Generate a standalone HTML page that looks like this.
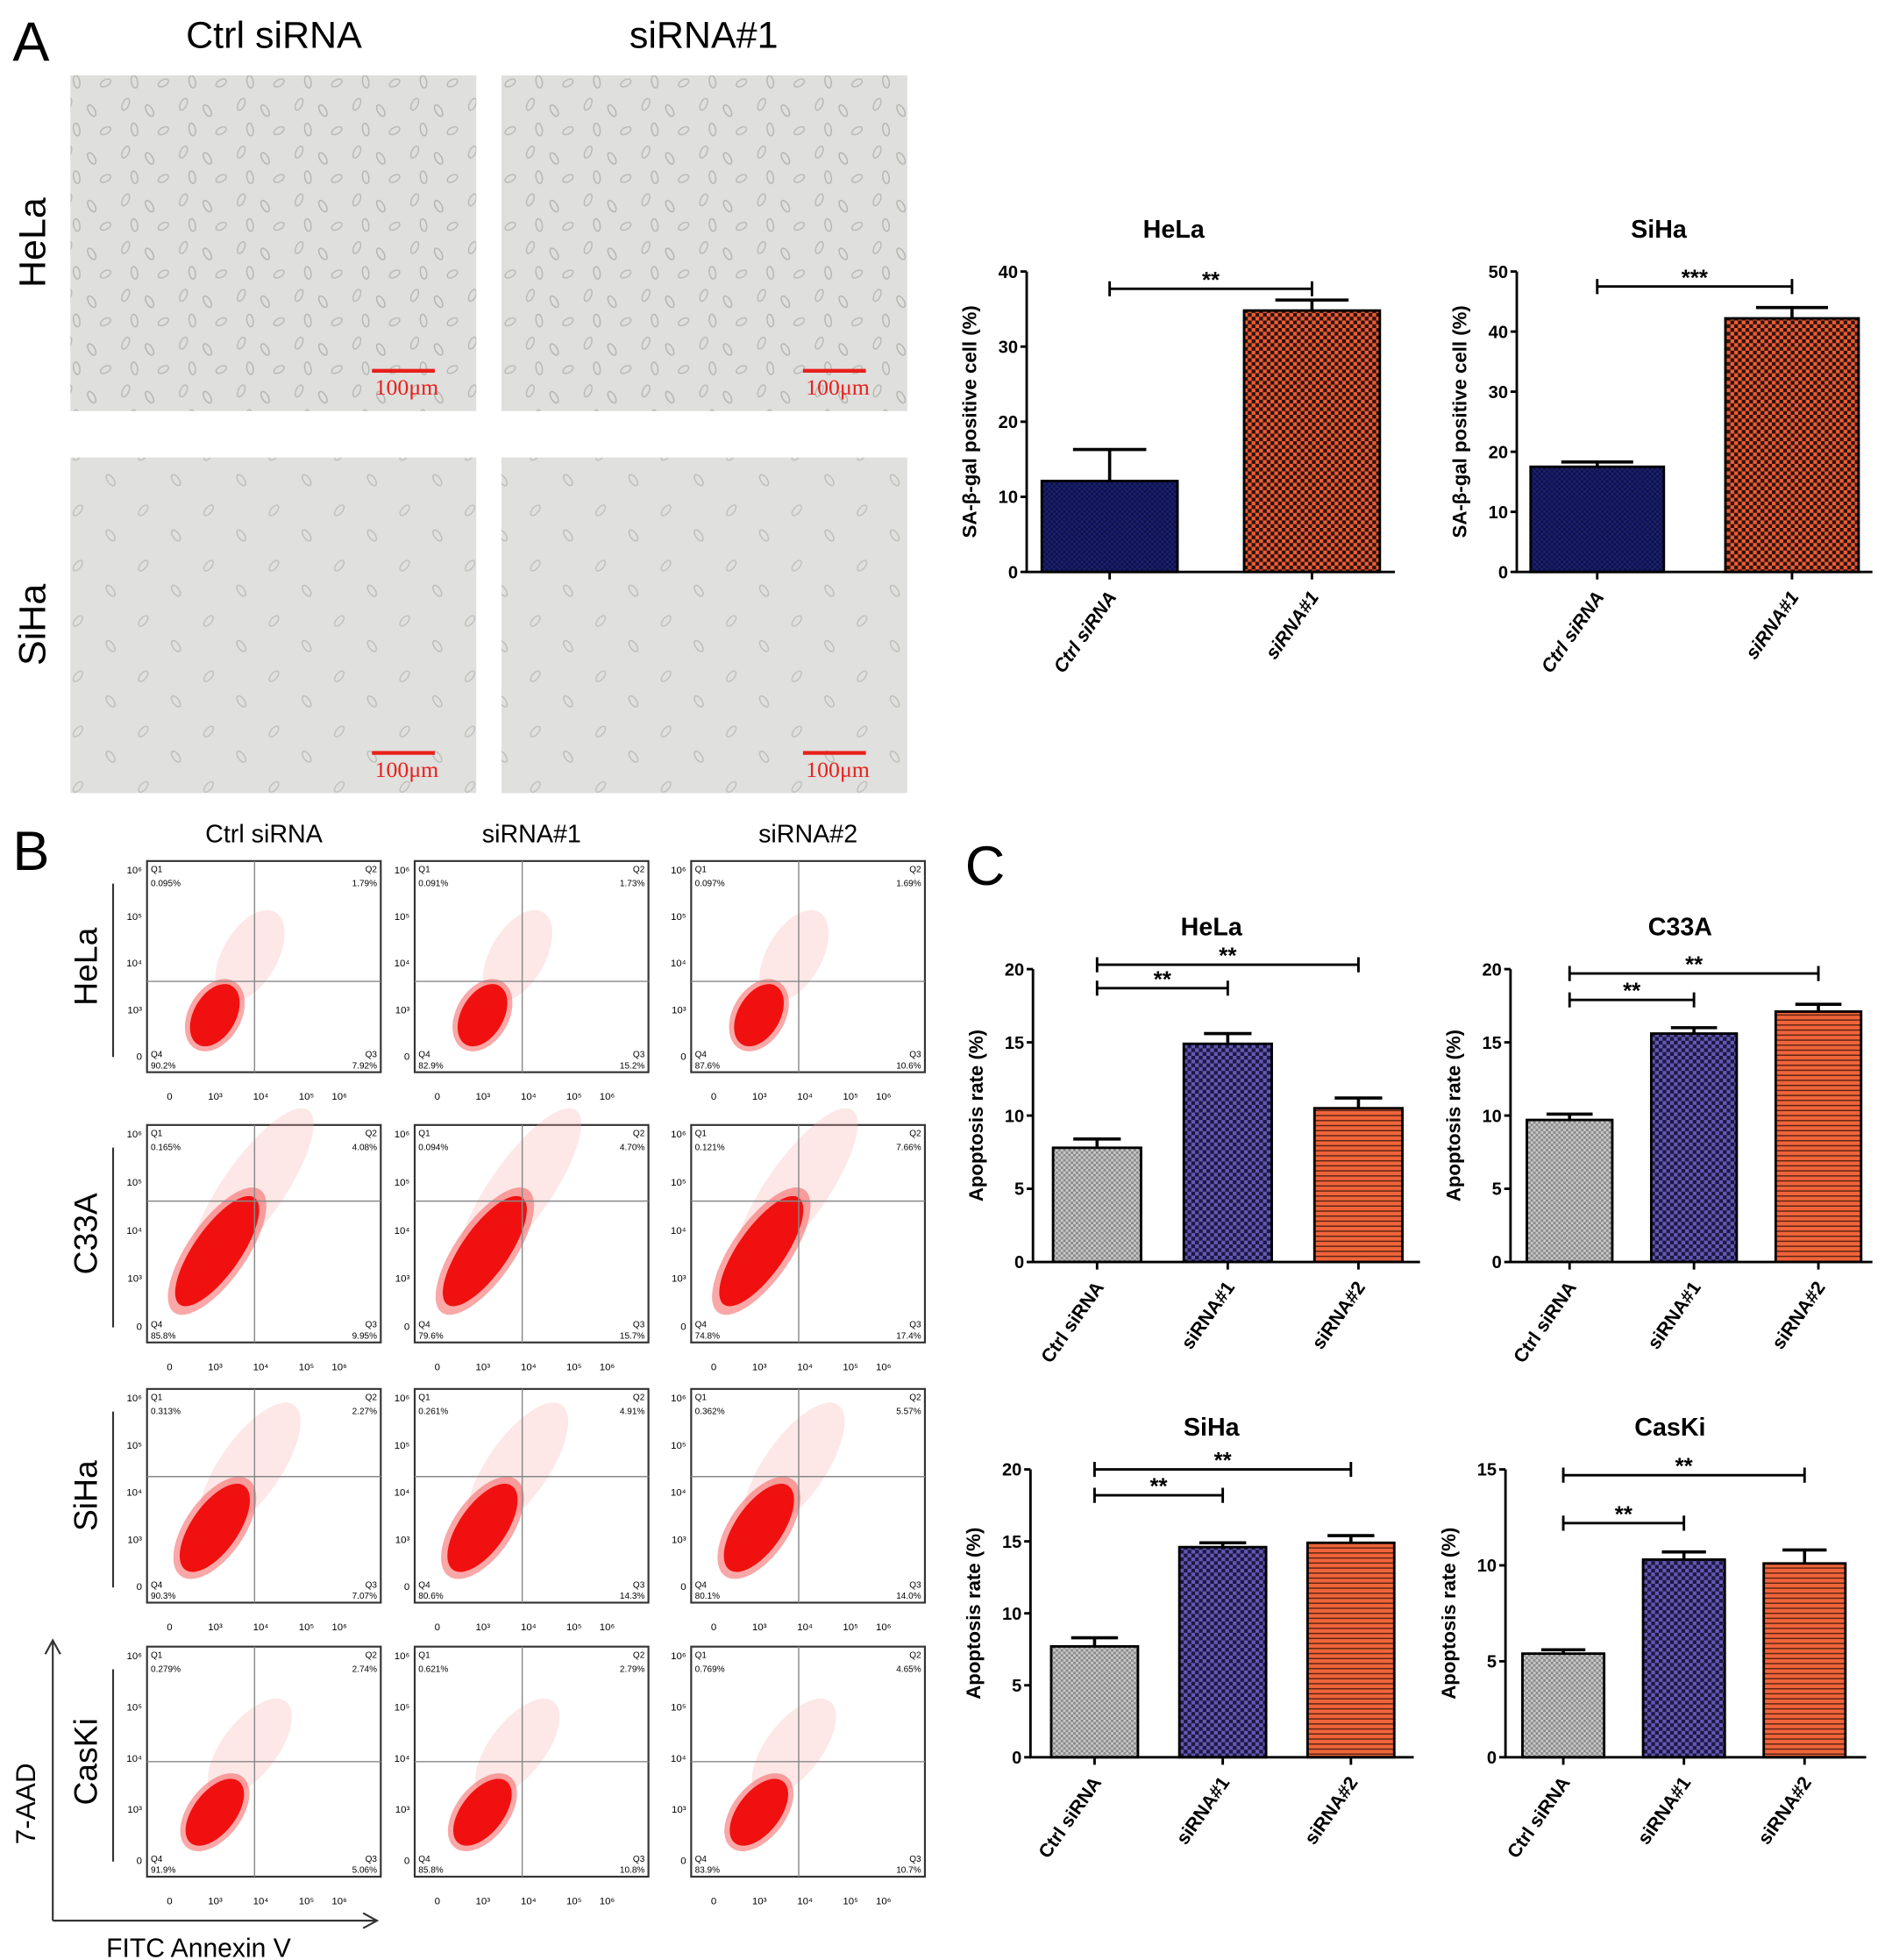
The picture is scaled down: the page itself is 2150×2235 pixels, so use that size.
<!DOCTYPE html>
<html><head><meta charset="utf-8">
<style>
html,body{margin:0;padding:0;background:#fff;}
svg{display:block;font-family:"Liberation Sans",Arial,sans-serif;}
</style></head>
<body>
<svg id="fig" width="2150" height="2235" viewBox="0 0 1500 1559.3" preserveAspectRatio="none" xmlns="http://www.w3.org/2000/svg">
<defs>
<pattern id="pBlue" width="4" height="4" patternUnits="userSpaceOnUse"><rect width="4" height="4" fill="#1b2070"/><rect width="2" height="2" fill="#0e1248"/><rect x="2" y="2" width="2" height="2" fill="#0e1248"/></pattern>
<pattern id="pOrange" width="6" height="6" patternUnits="userSpaceOnUse"><rect width="6" height="6" fill="#ef5a32"/><rect width="3" height="3" fill="#2a1410"/><rect x="3" y="3" width="3" height="3" fill="#2a1410"/></pattern>
<pattern id="pGray" width="4" height="4" patternUnits="userSpaceOnUse"><rect width="4" height="4" fill="#c8c8c8"/><rect width="2" height="2" fill="#8a8a8a"/><rect x="2" y="2" width="2" height="2" fill="#8a8a8a"/></pattern>
<pattern id="pPurple" width="6" height="6" patternUnits="userSpaceOnUse"><rect width="6" height="6" fill="#6358b0"/><rect width="3" height="3" fill="#1d1845"/><rect x="3" y="3" width="3" height="3" fill="#1d1845"/></pattern>
<pattern id="pStripe" width="4" height="4" patternUnits="userSpaceOnUse"><rect width="4" height="4" fill="#f0643a"/><rect y="3" width="4" height="1" fill="#5a2414"/></pattern>
<pattern id="pCells" width="46" height="38" patternUnits="userSpaceOnUse">
<rect width="46" height="38" fill="#dfdfdd"/>
<ellipse cx="8" cy="7" rx="2.5" ry="5" fill="none" stroke="#b8bab5" stroke-width="1" transform="rotate(25 8 7)"/>
<ellipse cx="27" cy="12" rx="2.5" ry="5" fill="none" stroke="#b2b4af" stroke-width="1" transform="rotate(-30 27 12)"/>
<ellipse cx="38" cy="28" rx="2.5" ry="4.5" fill="none" stroke="#b8bab5" stroke-width="1" transform="rotate(60 38 28)"/>
<ellipse cx="15" cy="27" rx="2.5" ry="5" fill="none" stroke="#b4b6b1" stroke-width="1" transform="rotate(-10 15 27)"/>
</pattern>
<pattern id="pCells2" width="52" height="44" patternUnits="userSpaceOnUse">
<rect width="52" height="44" fill="#e0e0de"/>
<ellipse cx="10" cy="10" rx="2.5" ry="5" fill="none" stroke="#bfc1bc" stroke-width="1" transform="rotate(40 10 10)"/>
<ellipse cx="36" cy="30" rx="2.5" ry="5" fill="none" stroke="#bcbeb9" stroke-width="1" transform="rotate(-35 36 30)"/>
</pattern>
</defs>
<g id="root"></g>
</svg>
<script>
// ---------- DATA ----------
const aCats = ['Ctrl siRNA', 'siRNA#1'];
const aHelaVals = [12.1, 34.8];
const aHelaErr = [4.2, 1.4];
const aSihaVals = [17.5, 42.2];
const aSihaErr = [0.8, 1.8];
const aHelaTicks = [0, 10, 20, 30, 40];
const aSihaTicks = [0, 10, 20, 30, 40, 50];
const aHelaSig = [[0, 1, 37.7, '**']];
const aSihaSig = [[0, 1, 47.5, '***']];

const cCats = ['Ctrl siRNA', 'siRNA#1', 'siRNA#2'];
const cHelaVals = [7.8, 14.9, 10.5];
const cHelaErr = [0.6, 0.7, 0.7];
const cC33aVals = [9.7, 15.6, 17.1];
const cC33aErr = [0.4, 0.4, 0.5];
const cSihaVals = [7.7, 14.6, 14.9];
const cSihaErr = [0.6, 0.3, 0.5];
const cCaskiVals = [5.4, 10.3, 10.1];
const cCaskiErr = [0.2, 0.4, 0.7];
const cTicks20 = [0, 5, 10, 15, 20];
const cTicks15 = [0, 5, 10, 15];
const cHelaSig = [[0, 1, 18.7, '**'], [0, 2, 20.3, '**']];
const cC33aSig = [[0, 1, 17.9, '**'], [0, 2, 19.7, '**']];
const cSihaSig = [[0, 1, 18.2, '**'], [0, 2, 20.0, '**']];
const cCaskiSig = [[0, 1, 12.2, '**'], [0, 2, 14.7, '**']];

const flowCols = ['Ctrl siRNA', 'siRNA#1', 'siRNA#2'];
const flowRows = ['HeLa', 'C33A', 'SiHa', 'CasKi'];
const flowQ1 = [['0.095%','0.091%','0.097%'],['0.165%','0.094%','0.121%'],['0.313%','0.261%','0.362%'],['0.279%','0.621%','0.769%']];
const flowQ2 = [['1.79%','1.73%','1.69%'],['4.08%','4.70%','7.66%'],['2.27%','4.91%','5.57%'],['2.74%','2.79%','4.65%']];
const flowQ3 = [['7.92%','15.2%','10.6%'],['9.95%','15.7%','17.4%'],['7.07%','14.3%','14.0%'],['5.06%','10.8%','10.7%']];
const flowQ4 = [['90.2%','82.9%','87.6%'],['85.8%','79.6%','74.8%'],['90.3%','80.6%','80.1%'],['91.9%','85.8%','83.9%']];

// ---------- HELPERS ----------
const NS = 'http://www.w3.org/2000/svg';
const root = document.getElementById('root');
function mk(tag, attrs, parent) {
  const e = document.createElementNS(NS, tag);
  for (const k in attrs) e.setAttribute(k, attrs[k]);
  (parent || root).appendChild(e);
  return e;
}
function txt(s, attrs, parent) { const e = mk('text', attrs, parent); e.textContent = s; return e; }

// ---------- STATIC LABELS ----------
let t;
t = txt('A', {x: 10, y: 48, 'font-size': 44});  
t = txt('B', {x: 10, y: 692, 'font-size': 44});  
t = txt('C', {x: 768, y: 704, 'font-size': 44});  
t = txt('Ctrl siRNA', {x: 218, y: 38, 'font-size': 30, 'text-anchor': 'middle'});  
t = txt('siRNA#1', {x: 560, y: 38, 'font-size': 30, 'text-anchor': 'middle'});  
t = txt('HeLa', {x: 0, y: 0, 'font-size': 30, 'text-anchor': 'middle', transform: 'translate(36 193) rotate(-90)'});  
t = txt('SiHa', {x: 0, y: 0, 'font-size': 30, 'text-anchor': 'middle', transform: 'translate(36 497) rotate(-90)'});  

// micrographs
const micro = [[56, 60, 'pCells', 'hela-ctrl'], [399, 60, 'pCells', 'hela-sirna1'], [56, 364, 'pCells2', 'siha-ctrl'], [399, 364, 'pCells2', 'siha-sirna1']];
micro.forEach(m => {
  const g = mk('g', {});
  
  
  mk('rect', {x: m[0], y: m[1], width: 323, height: 267, fill: 'url(#' + m[2] + ')'}, g);
  mk('line', {x1: m[0] + 240, y1: m[1] + 235, x2: m[0] + 290, y2: m[1] + 235, stroke: '#e8201c', 'stroke-width': 3}, g);
  const s = txt('100μm', {x: m[0] + 293, y: m[1] + 254, 'font-size': 18, fill: '#e8201c', 'text-anchor': 'end', 'font-family': 'Liberation Serif, serif'}, g);
  
  
});

// ---------- BAR CHART ----------
function barChart(o) {
  const g = mk('g', {});
  
  
  const tmax = o.ticks[o.ticks.length - 1];
  const y = v => o.y0 - (v / tmax) * (o.y0 - o.yTop);
  const x = i => o.c0 + i * o.step;
  const ti = txt(o.title, {x: o.tx, y: o.ty, 'font-size': 20, 'font-weight': 'bold', 'text-anchor': 'middle'}, g);
  
  
  o.vals.forEach((v, i) => {
    const b = mk('rect', {x: x(i) - o.bw / 2, y: y(v), width: o.bw, height: o.y0 - y(v), fill: 'url(#' + o.fills[i] + ')', stroke: '#000', 'stroke-width': 2}, g);
    
    
    const e = mk('path', {d: `M${x(i)} ${y(v)} V${y(v + o.err[i])} M${x(i) - o.bw * 0.27} ${y(v + o.err[i])} H${x(i) + o.bw * 0.27}`, stroke: '#000', 'stroke-width': 2.5, fill: 'none'}, g);
    
    
  });
  const ax = mk('path', {d: `M${o.ax} ${o.yTop} V${o.y0} H${o.axEnd}`, stroke: '#000', 'stroke-width': 2, fill: 'none'}, g);
  
  
  o.ticks.forEach(tv => {
    mk('line', {x1: o.ax - 5, x2: o.ax, y1: y(tv), y2: y(tv), stroke: '#000', 'stroke-width': 2}, g);
    const tl = txt(String(tv), {x: o.ax - 7, y: y(tv) + 5, 'font-size': 14, 'font-weight': 'bold', 'text-anchor': 'end'}, g);
    
    
  });
  o.cats.forEach((c, i) => {
    mk('line', {x1: x(i), x2: x(i), y1: o.y0, y2: o.y0 + 6, stroke: '#000', 'stroke-width': 2}, g);
    const xl = txt(c, {x: 0, y: 0, 'font-size': 15, 'font-weight': 'bold', 'font-style': o.italic ? 'italic' : 'normal', 'text-anchor': 'end', transform: `translate(${x(i) + 6} ${o.y0 + 20}) rotate(-55)`}, g);
    
    
  });
  const yl = txt(o.ylabel, {x: 0, y: 0, 'font-size': 15.5, 'font-weight': 'bold', 'text-anchor': 'middle', transform: `translate(${o.ax - 40} ${(o.y0 + o.yTop) / 2}) rotate(-90)`}, g);
  
  
  o.sig.forEach(s => {
    const yy = y(s[2]);
    const p = mk('path', {d: `M${x(s[0])} ${yy - 6} V${yy + 6} M${x(s[0])} ${yy} H${x(s[1])} M${x(s[1])} ${yy - 6} V${yy + 6}`, stroke: '#000', 'stroke-width': 2, fill: 'none'}, g);
    
    
    const st = txt(s[3], {x: (x(s[0]) + x(s[1])) / 2, y: yy - 1, 'font-size': 18, 'font-weight': 'bold', 'text-anchor': 'middle'}, g);
    
    
  });
}

barChart({name: 'chart-a-hela', title: 'HeLa', tx: 934, ty: 189, cats: aCats, vals: aHelaVals, err: aHelaErr, ticks: aHelaTicks, sig: aHelaSig,
  ax: 817, axEnd: 1110, y0: 455, yTop: 216, c0: 883, step: 161, bw: 108, fills: ['pBlue', 'pOrange'], italic: true, ylabel: 'SA-β-gal positive cell (%)'});
barChart({name: 'chart-a-siha', title: 'SiHa', tx: 1320, ty: 189, cats: aCats, vals: aSihaVals, err: aSihaErr, ticks: aSihaTicks, sig: aSihaSig,
  ax: 1207, axEnd: 1490, y0: 455, yTop: 216, c0: 1271, step: 155, bw: 106, fills: ['pBlue', 'pOrange'], italic: true, ylabel: 'SA-β-gal positive cell (%)'});
const cFills = ['pGray', 'pPurple', 'pStripe'];
barChart({name: 'chart-c-hela', title: 'HeLa', tx: 964, ty: 744, cats: cCats, vals: cHelaVals, err: cHelaErr, ticks: cTicks20, sig: cHelaSig,
  ax: 822, axEnd: 1130, y0: 1004, yTop: 771, c0: 873, step: 104, bw: 70, fills: cFills, italic: false, ylabel: 'Apoptosis rate (%)'});
barChart({name: 'chart-c-c33a', title: 'C33A', tx: 1337, ty: 744, cats: cCats, vals: cC33aVals, err: cC33aErr, ticks: cTicks20, sig: cC33aSig,
  ax: 1202, axEnd: 1490, y0: 1004, yTop: 771, c0: 1249, step: 99, bw: 68, fills: cFills, italic: false, ylabel: 'Apoptosis rate (%)'});
barChart({name: 'chart-c-siha', title: 'SiHa', tx: 964, ty: 1142, cats: cCats, vals: cSihaVals, err: cSihaErr, ticks: cTicks20, sig: cSihaSig,
  ax: 820, axEnd: 1125, y0: 1398, yTop: 1169, c0: 871, step: 102, bw: 69, fills: cFills, italic: false, ylabel: 'Apoptosis rate (%)'});
barChart({name: 'chart-c-caski', title: 'CasKi', tx: 1329, ty: 1142, cats: cCats, vals: cCaskiVals, err: cCaskiErr, ticks: cTicks15, sig: cCaskiSig,
  ax: 1198, axEnd: 1485, y0: 1398, yTop: 1169, c0: 1244, step: 96, bw: 65, fills: cFills, italic: false, ylabel: 'Apoptosis rate (%)'});

// ---------- FLOW PLOTS ----------
const colX = [117, 330, 550];
const colW = 186;
const rowY = [685, 895, 1105, 1310];
const rowH = [168, 173, 170, 183];
const hFrac = [0.57, 0.35, 0.41, 0.50];
// cx, cy, rx, ry (fractions), rotation
const blob = [[0.29, 0.73, 0.09, 0.16, 30], [0.30, 0.58, 0.10, 0.30, 35], [0.29, 0.65, 0.10, 0.24, 35], [0.29, 0.72, 0.09, 0.17, 38]];
const supers = ['0', '10³', '10⁴', '10⁵', '10⁶'];
flowCols.forEach((c, ci) => {
  const h = txt(c, {x: colX[ci] + colW / 2, y: 670, 'font-size': 20, 'text-anchor': 'middle'});
  
  
});
flowRows.forEach((r, ri) => {
  const rl = txt(r, {x: 0, y: 0, 'font-size': 26, 'text-anchor': 'middle', transform: `translate(77 ${rowY[ri] + rowH[ri] / 2}) rotate(-90)`});
  
  
  mk('line', {x1: 90, x2: 90, y1: rowY[ri] + 18, y2: rowY[ri] + rowH[ri] - 12, stroke: '#333', 'stroke-width': 1.5});
  flowCols.forEach((c, ci) => {
    const x0 = colX[ci], y0 = rowY[ri], w = colW, hh = rowH[ri];
    const g = mk('g', {});
    
    
    mk('rect', {x: x0, y: y0, width: w, height: hh, fill: '#fff', stroke: '#333', 'stroke-width': 1.5}, g);
    const b = blob[ri];
    const sx = x0 + w * (b[0] + 0.15), sy = y0 + hh * (b[1] - 0.28);
    mk('ellipse', {cx: sx, cy: sy, rx: w * b[2] * 1.3, ry: hh * b[3] * 1.5, fill: '#f8b0b0', opacity: 0.3, transform: `rotate(${b[4]} ${sx} ${sy})`}, g);
    const bx = x0 + w * b[0], by = y0 + hh * b[1];
    mk('ellipse', {cx: bx, cy: by, rx: w * b[2] * 1.25, ry: hh * b[3] * 1.15, fill: '#f45050', opacity: 0.5, transform: `rotate(${b[4]} ${bx} ${by})`}, g);
    mk('ellipse', {cx: bx, cy: by, rx: w * b[2], ry: hh * b[3], fill: '#f01010', transform: `rotate(${b[4]} ${bx} ${by})`}, g);
    mk('line', {x1: x0 + w * 0.46, x2: x0 + w * 0.46, y1: y0, y2: y0 + hh, stroke: '#888', 'stroke-width': 1}, g);
    mk('line', {x1: x0, x2: x0 + w, y1: y0 + hh * hFrac[ri], y2: y0 + hh * hFrac[ri], stroke: '#888', 'stroke-width': 1}, g);
    txt('Q1', {x: x0 + 3, y: y0 + 9, 'font-size': 7}, g);
    txt(flowQ1[ri][ci], {x: x0 + 3, y: y0 + 20, 'font-size': 7}, g);
    txt('Q2', {x: x0 + w - 3, y: y0 + 9, 'font-size': 7, 'text-anchor': 'end'}, g);
    txt(flowQ2[ri][ci], {x: x0 + w - 3, y: y0 + 20, 'font-size': 7, 'text-anchor': 'end'}, g);
    txt('Q4', {x: x0 + 3, y: y0 + hh - 12, 'font-size': 7}, g);
    txt(flowQ4[ri][ci], {x: x0 + 3, y: y0 + hh - 3, 'font-size': 7}, g);
    txt('Q3', {x: x0 + w - 3, y: y0 + hh - 12, 'font-size': 7, 'text-anchor': 'end'}, g);
    txt(flowQ3[ri][ci], {x: x0 + w - 3, y: y0 + hh - 3, 'font-size': 7, 'text-anchor': 'end'}, g);
    supers.forEach((s, k) => {
      txt(s, {x: x0 + 18 + k * (w - 30) / 4.3 + (k > 3 ? -10 : 0), y: y0 + hh + 22, 'font-size': 8, 'text-anchor': 'middle'}, g);
      txt(s, {x: x0 - 4, y: y0 + hh - 10 - k * (hh - 20) / 4, 'font-size': 8, 'text-anchor': 'end'}, g);
    });
  });
});
let ar = mk('path', {d: 'M42 1528 V1305 M36 1316 L42 1305 L48 1316 M42 1528 H300 M289 1522 L300 1528 L289 1534', stroke: '#333', 'stroke-width': 1.5, fill: 'none'});


t = txt('7-AAD', {x: 0, y: 0, 'font-size': 22, 'text-anchor': 'middle', transform: 'translate(28 1435) rotate(-90)'});  
t = txt('FITC Annexin V', {x: 158, y: 1557, 'font-size': 21, 'text-anchor': 'middle'});  
</script>
</body></html>
